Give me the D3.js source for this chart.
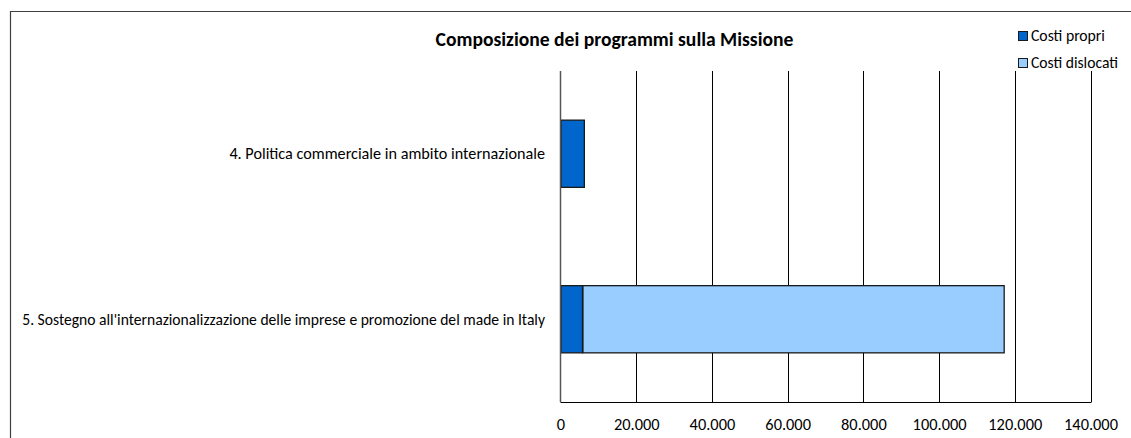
<!DOCTYPE html>
<html>
<head>
<meta charset="utf-8">
<script src="https://cdn.jsdelivr.net/npm/d3@7"></script>
<style>
  html, body { margin: 0; padding: 0; background: #fff; }
  svg { display: block; }
  text { font-family: Carlito, "Liberation Sans Narrow", "Open Sans", sans-serif; fill: #000; }
</style>
</head>
<body>
<script>
const categories = [
  "4. Politica commerciale in ambito internazionale",
  "5. Sostegno all'internazionalizzazione  delle imprese e promozione del made in Italy"
];
const seriesNames = ["Costi propri", "Costi dislocati"];
const costiPropri = [6300, 5800];
const costiDislocati = [0, 111400];
const tickValues = [0, 20000, 40000, 60000, 80000, 100000, 120000, 140000];
const tickLabels = ["0", "20.000", "40.000", "60.000", "80.000", "100.000", "120.000", "140.000"];
const titleText = "Composizione dei programmi sulla Missione";
const colors = ["#0066CC", "#99CCFF"];

const W = 1131, H = 438;
const svg = d3.select("body").append("svg").attr("width", W).attr("height", H);

// chart frame
svg.append("path")
  .attr("d", `M10.5,${H} L10.5,11.5 L${W},11.5`)
  .attr("fill", "none").attr("stroke", "#404040").attr("stroke-width", 1.2);

const plot = { left: 560.5, right: 1090.5, top: 71, bottom: 402 };

const x = d3.scaleLinear().domain([0, 140000]).range([plot.left, plot.right]);
const y = d3.scaleBand().domain(categories).range([plot.top, plot.bottom]).paddingInner(0.594).paddingOuter(0.297);

function fit(sel, target) {
  const node = sel.node();
  const fs = parseFloat(sel.attr("font-size"));
  const w = node.getComputedTextLength();
  if (w > 0) sel.attr("font-size", (fs * target / w).toFixed(2));
  return sel;
}

// gridlines
svg.append("g").selectAll("line").data(tickValues.slice(1)).join("line")
  .attr("x1", d => Math.round(x(d)) + 0.5).attr("x2", d => Math.round(x(d)) + 0.5)
  .attr("y1", plot.top).attr("y2", plot.bottom)
  .attr("stroke", "#000").attr("stroke-width", 1);

// stacked bars
const stackData = categories.map((c, i) => ({ cat: c, propri: costiPropri[i], dislocati: costiDislocati[i] }));
const stack = d3.stack().keys(["propri", "dislocati"])(stackData);
stack.forEach((layer, li) => {
  svg.append("g").selectAll("rect").data(layer.filter(d => d[1] - d[0] > 0)).join("rect")
    .attr("x", d => x(d[0]) + 0.5)
    .attr("y", d => y(d.data.cat))
    .attr("width", d => x(d[1]) - x(d[0]) - 0.5)
    .attr("height", y.bandwidth())
    .attr("fill", colors[li])
    .attr("stroke", "#1a1a1a").attr("stroke-width", 1.3);
});

// axis lines
svg.append("line").attr("x1", plot.left).attr("x2", plot.left)
  .attr("y1", plot.top).attr("y2", plot.bottom)
  .attr("stroke", "#555").attr("stroke-width", 1.5);
svg.append("line").attr("x1", plot.left).attr("x2", Math.round(x(140000)) + 0.5)
  .attr("y1", plot.bottom + 0.5).attr("y2", plot.bottom + 0.5)
  .attr("stroke", "#000").attr("stroke-width", 1);

// bottom tick labels
const xAxis = d3.axisBottom(x).tickValues(tickValues).tickFormat((d, i) => tickLabels[i]).tickSize(0).tickPadding(0);
const gx = svg.append("g").attr("transform", `translate(0,${plot.bottom})`).call(xAxis);
gx.select(".domain").remove();
const txs = gx.selectAll("text").attr("font-size", 12.5).attr("y", 22).attr("dy", "0.35em")
  .style("font-family", 'Carlito, "Liberation Sans Narrow", "Open Sans", sans-serif').attr("fill", "#000");
// scale all tick labels uniformly from the "100.000" label width
let tickFs = 12.5;
txs.each(function(d) {
  if (d === 100000) {
    const w = this.getComputedTextLength();
    if (w > 0) tickFs = 12.5 * 54 / w;
  }
});
txs.attr("font-size", tickFs.toFixed(2));

// category labels
const yAxis = d3.axisLeft(y).tickSize(0).tickPadding(0);
const gy = svg.append("g").attr("transform", `translate(545,0)`).call(yAxis);
gy.select(".domain").remove();
gy.selectAll("text").attr("font-size", 12).attr("x", 0).attr("dy", "0.35em")
  .style("font-family", 'Carlito, "Liberation Sans Narrow", "Open Sans", sans-serif').attr("fill", "#000");
const labelWidths = [316, 523];
gy.selectAll("text").each(function(d, i) { fit(d3.select(this), labelWidths[i]); });

// title
const t = svg.append("text").attr("x", 614.5).attr("y", 46).attr("text-anchor", "middle")
  .attr("font-weight", "bold").attr("font-size", 15).text(titleText);
fit(t, 358);

// legend
const leg = svg.append("g");
seriesNames.forEach((s, i) => {
  const yy = 31 + i * 27;
  leg.append("rect").attr("x", 1018.5).attr("y", yy + 0.5).attr("width", 9).attr("height", 9)
    .attr("fill", colors[i]).attr("stroke", "#1a1a1a").attr("stroke-width", 1);
  const tt = leg.append("text").attr("x", 1031).attr("y", yy + 5).attr("dy", "0.35em")
    .attr("font-size", 12.5).text(s);
  fit(tt, i === 0 ? 74 : 87);
});
</script>
</body>
</html>
